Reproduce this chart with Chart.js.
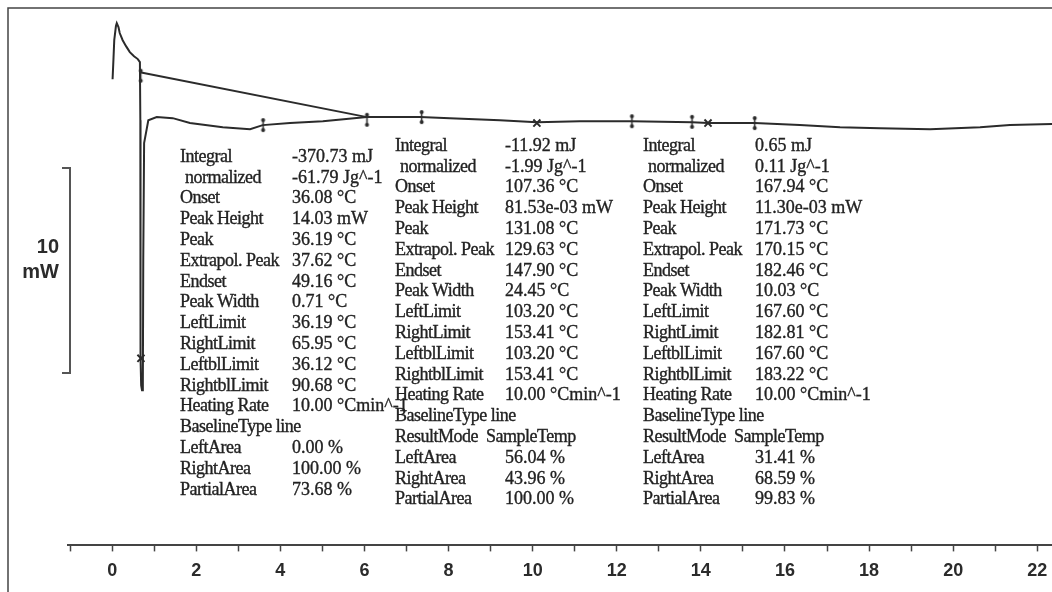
<!DOCTYPE html>
<html>
<head>
<meta charset="utf-8">
<script src="https://cdn.jsdelivr.net/npm/chart.js@4/dist/chart.umd.min.js"></script>
<style>
  html, body { margin: 0; padding: 0; background: #fff; }
  #wrap { width: 1052px; height: 592px; }
</style>
</head>
<body>
<div id="wrap"><canvas id="dsc" width="1052" height="592"></canvas></div>
<script>
// DSC trace, time in min, heat flow in mW (arbitrary offset)
const curveTime = [0.01, 0.03, 0.05, 0.09, 0.11, 0.15, 0.18, 0.25, 0.33, 0.42, 0.52, 0.61, 0.66,
  0.67, 0.67, 0.68, 0.69, 0.71, 0.73, 0.74, 0.76, 0.86, 1.06, 1.44, 1.85, 2.63, 3.28, 3.58,
  4.23, 5.01, 6.06, 7.32, 8.03, 9.22, 10.10, 11.12, 12.36, 13.79, 14.17, 15.28, 16.35,
  17.31, 18.26, 19.45, 20.64, 21.35, 22.35];
const curveHeat = [22.73, 23.66, 24.63, 25.32, 25.46, 25.27, 24.98, 24.63, 24.34, 24.05, 23.85, 23.71, 23.56,
  20.73, 14.39, 9.12, 7.80, 7.56, 7.90, 14.0, 19.61, 20.73, 20.88, 20.83, 20.59, 20.39, 20.29, 20.49,
  20.59, 20.68, 20.88, 20.88, 20.83, 20.73, 20.63, 20.68, 20.68, 20.63, 20.59, 20.59, 20.49,
  20.39, 20.34, 20.29, 20.39, 20.49, 20.54];

// integration baseline of the first peak
const baseTime = [0.66, 6.06];
const baseHeat = [23.07, 20.88];

// peak markers (x) and limit markers
const peakTime = [0.685, 10.10, 14.17];
const peakHeat = [9.12, 20.59, 20.59];
const limitTime = [0.68, 3.59, 6.06, 7.36, 12.36, 13.79, 15.28];
const limitHeat = [22.9, 20.49, 20.75, 20.88, 20.68, 20.65, 20.59];

const xTicks = [0, 2, 4, 6, 8, 10, 12, 14, 16, 18, 20, 22];

// scale bar: 10 mW
const barTop = 18.4;
const barSpan = 10;

// result boxes
const block1Labels = ['Integral', ' normalized', 'Onset', 'Peak Height', 'Peak', 'Extrapol. Peak', 'Endset',
  'Peak Width', 'LeftLimit', 'RightLimit', 'LeftblLimit', 'RightblLimit', 'Heating Rate',
  'BaselineType line', 'LeftArea', 'RightArea', 'PartialArea'];
const block1Values = ['-370.73 mJ', '-61.79 Jg^-1', '36.08 °C', '14.03 mW', '36.19 °C', '37.62 °C', '49.16 °C',
  '0.71 °C', '36.19 °C', '65.95 °C', '36.12 °C', '90.68 °C', '10.00 °Cmin^-1',
  '', '0.00 %', '100.00 %', '73.68 %'];

const block2Labels = ['Integral', ' normalized', 'Onset', 'Peak Height', 'Peak', 'Extrapol. Peak', 'Endset',
  'Peak Width', 'LeftLimit', 'RightLimit', 'LeftblLimit', 'RightblLimit', 'Heating Rate',
  'BaselineType line', 'ResultMode  SampleTemp', 'LeftArea', 'RightArea', 'PartialArea'];
const block2Values = ['-11.92 mJ', '-1.99 Jg^-1', '107.36 °C', '81.53e-03 mW', '131.08 °C', '129.63 °C', '147.90 °C',
  '24.45 °C', '103.20 °C', '153.41 °C', '103.20 °C', '153.41 °C', '10.00 °Cmin^-1',
  '', '', '56.04 %', '43.96 %', '100.00 %'];

const block3Labels = block2Labels;
const block3Values = ['0.65 mJ', '0.11 Jg^-1', '167.94 °C', '11.30e-03 mW', '171.73 °C', '170.15 °C', '182.46 °C',
  '10.03 °C', '167.60 °C', '182.81 °C', '167.60 °C', '183.22 °C', '10.00 °Cmin^-1',
  '', '', '31.41 %', '68.59 %', '99.83 %'];

const ink = '#2b2b2b';

function pts(xs, ys) {
  return xs.map((x, i) => ({ x: x, y: ys[i] }));
}

// limit marker: short vertical bar with dots
const limitMark = document.createElement('canvas');
limitMark.width = 7;
limitMark.height = 16;
(function () {
  const c = limitMark.getContext('2d');
  c.strokeStyle = ink;
  c.fillStyle = ink;
  c.lineWidth = 1.5;
  c.beginPath(); c.moveTo(3.5, 2); c.lineTo(3.5, 14); c.stroke();
  c.beginPath(); c.arc(3.5, 3, 2, 0, Math.PI * 2); c.fill();
  c.beginPath(); c.arc(3.5, 13, 2, 0, Math.PI * 2); c.fill();
})();

const overlay = {
  id: 'overlay',
  afterDraw(chart) {
    const c = chart.ctx;
    const y = chart.scales.y;
    c.save();
    // frame
    c.strokeStyle = '#444';
    c.lineWidth = 1.5;
    c.beginPath();
    c.moveTo(8, 592); c.lineTo(8, 8); c.lineTo(1052, 8);
    c.stroke();

    // scale bar
    const t = y.getPixelForValue(barTop);
    const b = y.getPixelForValue(barTop - barSpan);
    const mid = (t + b) / 2;
    c.strokeStyle = '#555';
    c.lineWidth = 2;
    c.beginPath();
    c.moveTo(62, t); c.lineTo(70, t); c.lineTo(70, b); c.lineTo(62, b);
    c.stroke();
    c.fillStyle = ink;
    c.font = 'bold 20px "Liberation Sans", Arial, sans-serif';
    c.textAlign = 'right';
    c.textBaseline = 'middle';
    c.fillText('10', 59, mid - 23);
    c.fillText('mW', 59, mid + 2);

    // result text
    c.textAlign = 'left';
    c.fillStyle = '#222';
    c.strokeStyle = '#222';
    c.lineWidth = 0.35;
    c.font = '18px "Liberation Serif", "Times New Roman", serif';
    const blocks = [
      [block1Labels, block1Values, 180, 292, 157],
      [block2Labels, block2Values, 395, 505, 146],
      [block3Labels, block3Values, 643, 755, 146]
    ];
    blocks.forEach(([labels, values, lx, vx, top]) => {
      labels.forEach((lab, i) => {
        const yy = top + i * 20.8;
        const indent = lab.startsWith(' ') ? 5 : 0;
        c.letterSpacing = '-0.5px';
        c.fillText(lab.trim(), lx + indent, yy);
        c.strokeText(lab.trim(), lx + indent, yy);
        c.letterSpacing = '0px';
        if (values[i]) {
          c.fillText(values[i], vx, yy);
          c.strokeText(values[i], vx, yy);
        }
      });
    });
    c.restore();
  }
};

const chart = new Chart(document.getElementById('dsc'), {
  type: 'scatter',
  data: {
    datasets: [
      {
        label: 'DSC',
        data: pts(curveTime, curveHeat),
        showLine: true,
        borderColor: ink,
        borderWidth: 2,
        pointRadius: 0,
        tension: 0
      },
      {
        label: 'Baseline',
        data: pts(baseTime, baseHeat),
        showLine: true,
        borderColor: ink,
        borderWidth: 2,
        pointRadius: 0
      },
      {
        label: 'Peaks',
        data: pts(peakTime, peakHeat),
        pointStyle: 'crossRot',
        pointRadius: 5,
        borderColor: ink,
        borderWidth: 2
      },
      {
        label: 'Limits',
        data: pts(limitTime, limitHeat),
        pointStyle: limitMark,
        pointRadius: 6
      }
    ]
  },
  options: {
    responsive: false,
    animation: false,
    layout: { autoPadding: false, padding: { left: 68, right: 0, top: 8, bottom: 1 } },
    plugins: {
      legend: { display: false },
      tooltip: { enabled: false }
    },
    scales: {
      x: {
        type: 'linear',
        min: -1.05,
        max: 22.35,
        afterBuildTicks: (scale) => {
          const list = [];
          for (let v = -1; v <= 22; v++) list.push({ value: v });
          scale.ticks = list;
        },
        afterFit: (scale) => {
          scale.paddingLeft = 0;
          scale.paddingRight = 0;
        },
        ticks: {
          autoSkip: false,
          maxRotation: 0,
          padding: 9,
          color: ink,
          font: { family: '"Liberation Sans", Arial, sans-serif', size: 18, weight: 'bold' },
          callback: (v) => xTicks.includes(v) ? String(v) : ''
        },
        grid: {
          drawOnChartArea: false,
          tickLength: 6,
          tickColor: '#444',
          tickWidth: 1.5
        },
        border: { display: true, color: '#444', width: 2 }
      },
      y: {
        display: false,
        min: 0,
        max: 26.2
      }
    }
  },
  plugins: [overlay]
});
</script>
</body>
</html>
